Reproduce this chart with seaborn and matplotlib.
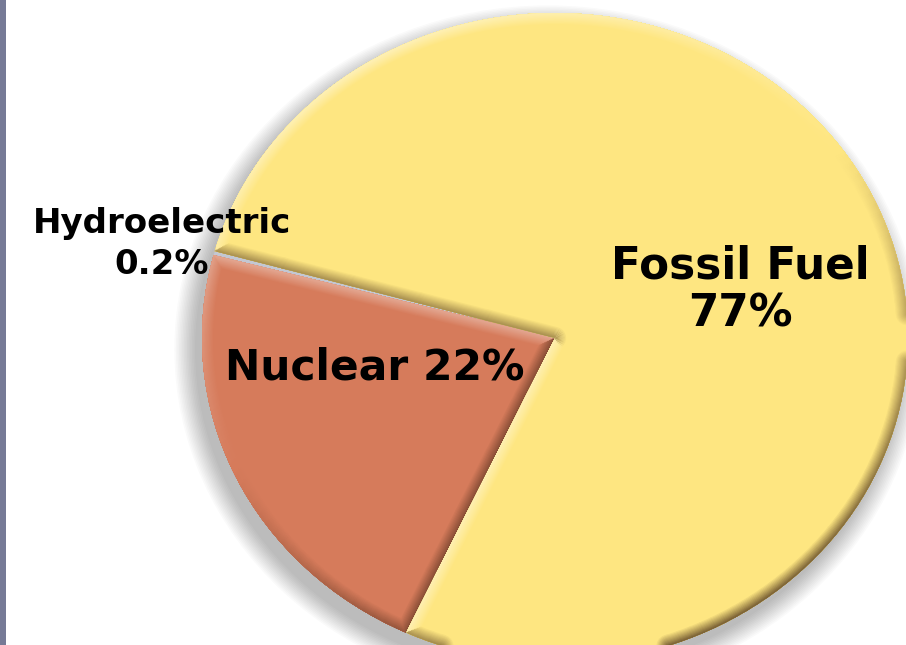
import numpy as np
import matplotlib
matplotlib.use("Agg")
import matplotlib.pyplot as plt
import matplotlib.colors as mcolors
from matplotlib.patches import Ellipse, Rectangle
from matplotlib.collections import LineCollection
import seaborn as sns

# ---- data ----
categories = ["Hydroelectric", "Nuclear", "Fossil Fuel"]
shares = [0.2, 22, 77]
label_texts = ["Hydroelectric\n0.2%", "Nuclear 22%", "Fossil Fuel\n77%"]
colors = ["#C3C7D2", "#D67B5B", "#FEE681"]

sns.set_theme(style="white")
plt.rcParams['font.family'] = ['DejaVu Sans']

W, H = 906, 645
fig = plt.figure(figsize=(W / 100, H / 100), dpi=100)
fig.patch.set_facecolor("white")

cx, cy, rx, ry = 555, 338, 353, 325
ax = fig.add_axes([(cx - rx) / W, (H - cy - ry) / H, 2 * rx / W, 2 * ry / H])
wedges, _ = ax.pie(shares, colors=colors, startangle=164.5, counterclock=True,
                   radius=1, wedgeprops=dict(linewidth=0, zorder=2))
ax.set_aspect('auto')
ax.set_xlim(-1, 1)
ax.set_ylim(-1, 1)
ax.axis('off')

# soft shadow (falls towards the lower left)
for i in range(14):
    e = Ellipse((-0.02, -0.035), width=2 * (1 + 0.0045 * i), height=2 * (1 + 0.0045 * i),
                facecolor="black", edgecolor="none", alpha=0.018, zorder=1, clip_on=False)
    ax.add_patch(e)

# bevel effect
L = np.array([-0.5, 0.87])
L = L / np.linalg.norm(L)


def blend(c, target, a):
    c = np.array(mcolors.to_rgb(c))
    t = np.array(mcolors.to_rgb(target))
    a = float(np.clip(a, 0, 1))
    return tuple(c * (1 - a) + t * a)


for w, face in zip(wedges, colors):
    t1, t2 = w.theta1, w.theta2
    if t2 - t1 < 5:
        continue
    c = np.array(w.center)
    r = w.r
    p1 = c + r * np.array([np.cos(np.radians(t1)), np.sin(np.radians(t1))])
    p2 = c + r * np.array([np.cos(np.radians(t2)), np.sin(np.radians(t2))])
    segs, shades = [], []
    for a, b in zip(np.linspace(0, 1, 6)[:-1], np.linspace(0, 1, 6)[1:]):
        segs.append([c + (p1 - c) * a, c + (p1 - c) * b])
        n = np.array([np.cos(np.radians(t1 - 90)), np.sin(np.radians(t1 - 90))])
        shades.append(np.dot(n, L))
    th = np.linspace(t1, t2, int((t2 - t1) / 2) + 2)
    for a, b in zip(th[:-1], th[1:]):
        pa = c + r * np.array([np.cos(np.radians(a)), np.sin(np.radians(a))])
        pb = c + r * np.array([np.cos(np.radians(b)), np.sin(np.radians(b))])
        segs.append([pa, pb])
        m = np.radians((a + b) / 2)
        shades.append(np.dot([np.cos(m), np.sin(m)], L) - 0.1)
    for a, b in zip(np.linspace(0, 1, 6)[:-1], np.linspace(0, 1, 6)[1:]):
        segs.append([p2 + (c - p2) * a, p2 + (c - p2) * b])
        n = np.array([np.cos(np.radians(t2 + 90)), np.sin(np.radians(t2 + 90))])
        shades.append(np.dot(n, L))
    widths = np.linspace(16, 1.5, 10)
    for k, lw in enumerate(widths):
        frac = (k + 1) / len(widths)
        cols = []
        for s in shades:
            if s >= 0:
                cols.append(blend(face, "white", 0.45 * s * frac))
            else:
                cols.append(blend(face, "#3a2010", 0.6 * (-s) * frac))
        lc = LineCollection(segs, colors=cols, linewidths=lw, capstyle="round",
                            joinstyle="round", zorder=3)
        ax.add_collection(lc)
        lc.set_clip_path(w)

# labels
ax.text(162 / W, 1 - 244 / H, label_texts[0], transform=fig.transFigure,
        ha="center", va="center", multialignment="center", fontsize=24.5,
        fontweight="bold", linespacing=1.3, color="black", zorder=5)
ax.text(375 / W, 1 - 368 / H, label_texts[1], transform=fig.transFigure,
        ha="center", va="center", fontsize=30.5, fontweight="bold",
        color="black", zorder=5)
ax.text(740 / W, 1 - 290 / H, label_texts[2], transform=fig.transFigure,
        ha="center", va="center", multialignment="center", fontsize=31.5,
        fontweight="bold", linespacing=1.15, color="black", zorder=5)

# left slide border strip
fig.patches.append(Rectangle((0, 0), 6 / W, 1, transform=fig.transFigure,
                             facecolor="#767A96", edgecolor="none", zorder=10))

fig.savefig("out.png", dpi=100)
